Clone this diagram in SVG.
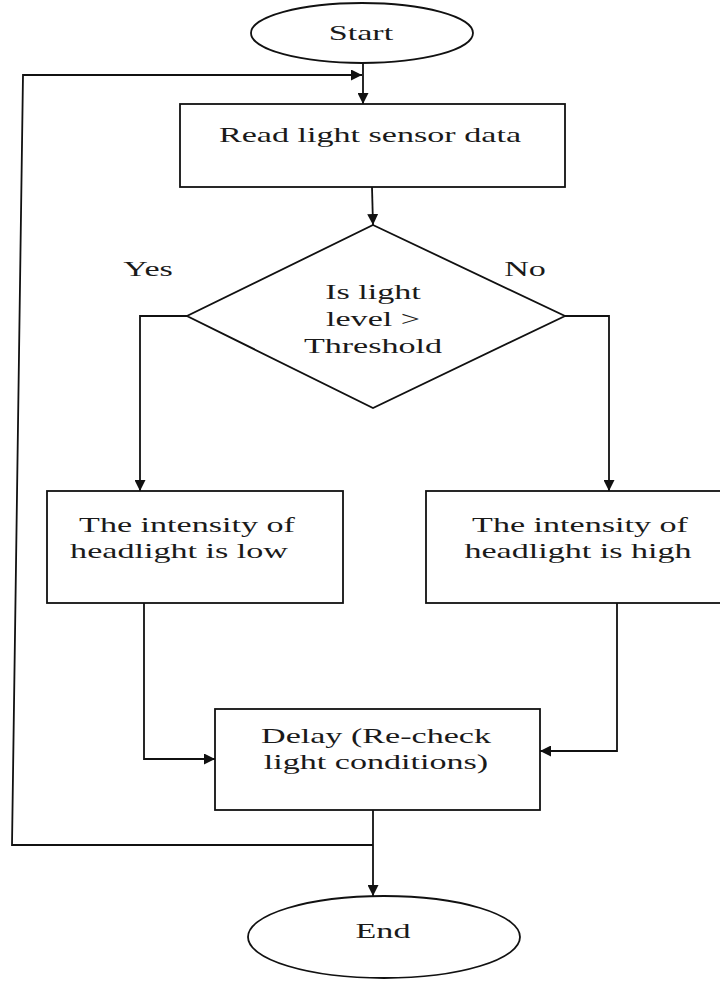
<svg xmlns="http://www.w3.org/2000/svg" width="720" height="983" viewBox="0 0 720 983">
<style>
  .shape { fill: #ffffff; stroke: #111111; stroke-width: 1.8; }
  .conn { fill: none; stroke: #111111; stroke-width: 1.8; }
  .lbl { font-family: "Liberation Serif", "Times New Roman", serif; font-size: 22px; fill: #1a1a1a; text-anchor: middle; }
</style>
<defs>
  <marker id="arrow" viewBox="0 0 10 10" refX="10" refY="5" markerWidth="11" markerHeight="11" markerUnits="userSpaceOnUse" orient="auto">
    <path d="M0,0 L10,5 L0,10 z" fill="#111111"/>
  </marker>
</defs>
<rect width="720" height="983" fill="#ffffff"/>

<g id="connectors">
  <line class="conn" x1="363" y1="63" x2="363" y2="104" marker-end="url(#arrow)"/>
  <path class="conn" d="M373,845 L12,845 L23,75 L362,75" marker-end="url(#arrow)"/>
  <line class="conn" x1="372" y1="187" x2="373" y2="225" marker-end="url(#arrow)"/>
  <path class="conn" d="M187,316 L140,316 L140,491" marker-end="url(#arrow)"/>
  <path class="conn" d="M565,316 L609,316 L609,491" marker-end="url(#arrow)"/>
  <path class="conn" d="M144,603 L144,759 L215,759" marker-end="url(#arrow)"/>
  <path class="conn" d="M617,603 L617,751 L540,751" marker-end="url(#arrow)"/>
  <line class="conn" x1="373" y1="810" x2="373" y2="896" marker-end="url(#arrow)"/>
  <text class="lbl" transform="translate(148,276) scale(1.55,1)">Yes</text>
  <text class="lbl" transform="translate(525,276) scale(1.55,1)">No</text>
</g>

<g id="start">
  <ellipse class="shape" cx="362" cy="33" rx="111" ry="30"/>
  <text class="lbl" transform="translate(361,40) scale(1.55,1)">Start</text>
</g>

<g id="read">
  <rect class="shape" x="180" y="104" width="385" height="83"/>
  <text class="lbl" transform="translate(370,142) scale(1.55,1)">Read light sensor data</text>
</g>

<g id="decision">
  <polygon class="shape" points="373,225 565,316 373,408 187,316"/>
  <text class="lbl" transform="translate(373,299) scale(1.55,1)">Is light</text>
  <text class="lbl" transform="translate(373,326) scale(1.55,1)">level &gt;</text>
  <text class="lbl" transform="translate(373,353) scale(1.55,1)">Threshold</text>
</g>

<g id="low">
  <rect class="shape" x="47" y="491" width="296" height="112"/>
  <text class="lbl" transform="translate(187,532) scale(1.55,1)">The intensity of</text>
  <text class="lbl" transform="translate(179,558) scale(1.55,1)">headlight is low</text>
</g>

<g id="high">
  <rect class="shape" x="426" y="491" width="310" height="112"/>
  <text class="lbl" transform="translate(580,532) scale(1.55,1)">The intensity of</text>
  <text class="lbl" transform="translate(578,558) scale(1.55,1)">headlight is high</text>
</g>

<g id="delay">
  <rect class="shape" x="215" y="709" width="325" height="101"/>
  <text class="lbl" transform="translate(376,743) scale(1.55,1)">Delay (Re-check</text>
  <text class="lbl" transform="translate(376,769) scale(1.55,1)">light conditions)</text>
</g>

<g id="end">
  <ellipse class="shape" cx="384" cy="937" rx="136" ry="41"/>
  <text class="lbl" transform="translate(383,938) scale(1.55,1)">End</text>
</g>
</svg>
